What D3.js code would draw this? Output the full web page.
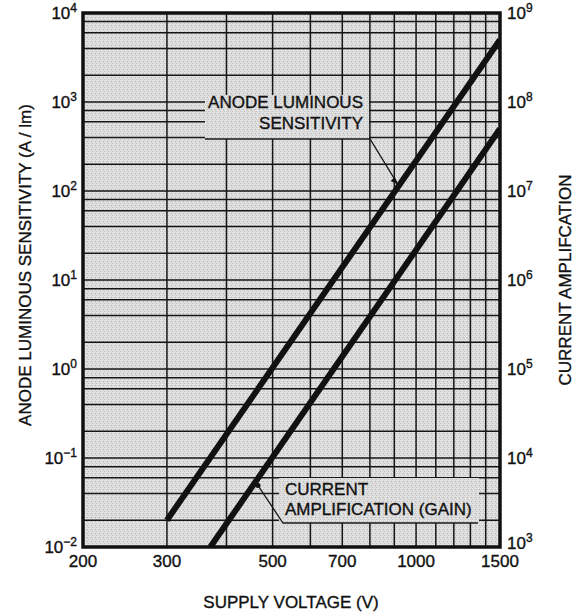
<!DOCTYPE html>
<html>
<head>
    <title>Anode luminous sensitivity and current amplification</title>
    <meta charset="utf-8">
    <script src="https://d3js.org/d3.v7.min.js"></script>
    <style>
        body { margin: 0; background: #fff; }
        text { font-family: "Liberation Sans", Arial, Helvetica, sans-serif; fill: #111; stroke: #111; stroke-width: 0.35px; }
    </style>
</head>
<body>

    <div id="my_dataviz"></div>

    <script>

        // supply voltage grid (V)
        var voltTicks = [200, 300, 500, 700, 1000, 1500];
        var voltGrid = [200, 300, 400, 500, 600, 700, 800, 900, 1000, 1100, 1200, 1300, 1400, 1500];

        // left axis: anode luminous sensitivity (A/lm)
        var sensExp = [-2, -1, 0, 1, 2, 3, 4];
        var gridMult = [1, 2, 4, 6, 8];

        // right axis: current amplification
        var gainExp = [3, 4, 5, 6, 7, 8, 9];

        // curves
        var anodeData = [
            { v: 300, value: 0.02 },
            { v: 1500, value: 5000 }
        ];
        var gainData = [
            { v: 370, value: 1e3 },
            { v: 1500, value: 5e7 }
        ];

        // annotation anchors on the curves
        var anodeNote = { v: 915, value: 120 };
        var gainNote = { v: 466, value: 4900 };

        var margin = { top: 13, right: 86, bottom: 69, left: 83 },
            width = 586 - margin.left - margin.right,
            height = 616 - margin.top - margin.bottom;

        var root = d3.select("#my_dataviz")
            .append("svg")
            .attr("width", 586)
            .attr("height", 616);

        // stippled paper texture
        var defs = root.append("defs");
        var pat = defs.append("pattern")
            .attr("id", "paper")
            .attr("width", 4).attr("height", 4)
            .attr("patternUnits", "userSpaceOnUse");
        pat.append("rect").attr("width", 4).attr("height", 4).attr("fill", "#dadada");
        [[0, 0, "#bdbdbd"], [2, 1, "#f0f0f0"], [1, 2, "#c6c6c6"], [3, 3, "#ececec"], [3, 0, "#cecece"], [1, 3, "#e6e6e6"]]
            .forEach(function (p) {
                pat.append("rect").attr("x", p[0]).attr("y", p[1])
                    .attr("width", 1).attr("height", 1).attr("fill", p[2]);
            });
        defs.append("clipPath").attr("id", "clip")
            .append("rect").attr("width", width).attr("height", height);

        var svg = root.append("g")
            .attr("transform", "translate(" + margin.left + "," + margin.top + ")");

        var x = d3.scaleLog().domain([200, 1500]).range([0, width]);
        var y = d3.scaleLog().domain([1e-2, 1e4]).range([height, 0]);
        var y2 = d3.scaleLog().domain([1e3, 1e9]).range([height, 0]);

        svg.append("rect")
            .attr("width", width).attr("height", height)
            .attr("fill", "url(#paper)");

        // grid
        var hGrid = [];
        sensExp.forEach(function (e) {
            gridMult.forEach(function (m) {
                var val = m * Math.pow(10, e);
                if (val <= 1e4) hGrid.push(val);
            });
        });

        svg.append("g").selectAll("line")
            .data(voltGrid)
            .enter().append("line")
            .attr("x1", function (d) { return x(d); })
            .attr("x2", function (d) { return x(d); })
            .attr("y1", 0).attr("y2", height)
            .attr("stroke", "#161616").attr("stroke-width", 1.5);

        svg.append("g").selectAll("line")
            .data(hGrid)
            .enter().append("line")
            .attr("x1", 0).attr("x2", width)
            .attr("y1", function (d) { return y(d); })
            .attr("y2", function (d) { return y(d); })
            .attr("stroke", "#161616").attr("stroke-width", 1.5);

        // label boxes cut the grid
        svg.append("rect")
            .attr("x", 122).attr("y", 82).attr("width", 164).attr("height", 44)
            .attr("fill", "url(#paper)");
        svg.append("rect")
            .attr("x", 196).attr("y", 465).attr("width", 200).attr("height", 45)
            .attr("fill", "url(#paper)");

        // curves
        var line = d3.line()
            .x(function (d) { return x(d.v); });

        var plot = svg.append("g").attr("clip-path", "url(#clip)");
        plot.append("path")
            .datum(anodeData)
            .attr("fill", "none")
            .attr("stroke", "#111")
            .attr("stroke-width", 6)
            .attr("d", line.y(function (d) { return y(d.value); }));
        plot.append("path")
            .datum(gainData)
            .attr("fill", "none")
            .attr("stroke", "#111")
            .attr("stroke-width", 6)
            .attr("d", line.y(function (d) { return y2(d.value); }));

        // annotation: anode luminous sensitivity
        var ax = x(anodeNote.v), ay = y(anodeNote.value);
        svg.append("path")
            .attr("d", "M122,126H287L" + (ax - 2) + "," + (ay - 3))
            .attr("fill", "none").attr("stroke", "#1a1a1a").attr("stroke-width", 1.3);
        svg.append("path")
            .attr("d", "M" + (ax + 1) + "," + (ay + 1) + "l-8,-4l4,-4z")
            .attr("fill", "#111");
        svg.append("text")
            .attr("x", 280).attr("y", 95)
            .attr("text-anchor", "end")
            .style("font-size", "17px")
            .text("ANODE LUMINOUS");
        svg.append("text")
            .attr("x", 280).attr("y", 116)
            .attr("text-anchor", "end")
            .style("font-size", "17px")
            .text("SENSITIVITY");

        // annotation: current amplification
        var gx = x(gainNote.v), gy = y2(gainNote.value);
        svg.append("path")
            .attr("d", "M" + gx + "," + gy + "L200,510H395")
            .attr("fill", "none").attr("stroke", "#1a1a1a").attr("stroke-width", 1.3);
        svg.append("circle")
            .attr("cx", gx).attr("cy", gy).attr("r", 2.5)
            .attr("fill", "#111");
        svg.append("text")
            .attr("x", 202).attr("y", 482)
            .style("font-size", "17px")
            .text("CURRENT");
        svg.append("text")
            .attr("x", 202).attr("y", 502)
            .style("font-size", "17px")
            .text("AMPLIFICATION (GAIN)");

        // frame
        svg.append("rect")
            .attr("width", width).attr("height", height)
            .attr("fill", "none")
            .attr("stroke", "#111")
            .attr("stroke-width", 3.5);

        // x tick labels
        svg.append("g").selectAll("text")
            .data(voltTicks)
            .enter().append("text")
            .attr("x", function (d) { return x(d); })
            .attr("y", height + 20)
            .attr("text-anchor", "middle")
            .style("font-size", "17px")
            .text(function (d) { return d; });

        function powLabel(sel, exp) {
            sel.append("tspan").text("10");
            sel.append("tspan")
                .attr("dy", -7)
                .style("font-size", "12px")
                .text(exp < 0 ? "\u2212" + (-exp) : exp);
        }

        // left tick labels
        svg.append("g").selectAll("text")
            .data(sensExp)
            .enter().append("text")
            .attr("x", -6)
            .attr("y", function (d) { return y(Math.pow(10, d)) + 6; })
            .attr("text-anchor", "end")
            .style("font-size", "17px")
            .each(function (d) { powLabel(d3.select(this), d); });

        // right tick labels
        svg.append("g").selectAll("text")
            .data(gainExp)
            .enter().append("text")
            .attr("x", width + 7)
            .attr("y", function (d) { return y2(Math.pow(10, d)) + (d === 3 ? 2 : 6); })
            .style("font-size", "17px")
            .each(function (d) { powLabel(d3.select(this), d); });

        // axis titles
        root.append("text")
            .attr("x", 291).attr("y", 608)
            .attr("text-anchor", "middle")
            .style("font-size", "17px")
            .text("SUPPLY VOLTAGE (V)");

        root.append("text")
            .attr("transform", "translate(31,265) rotate(-90)")
            .attr("text-anchor", "middle")
            .style("font-size", "17px")
            .text("ANODE LUMINOUS SENSITIVITY  (A / lm)");

        root.append("text")
            .attr("transform", "translate(571,280) rotate(-90)")
            .attr("text-anchor", "middle")
            .style("font-size", "17px")
            .text("CURRENT AMPLIFCATION");

    </script>

</body>
</html>
